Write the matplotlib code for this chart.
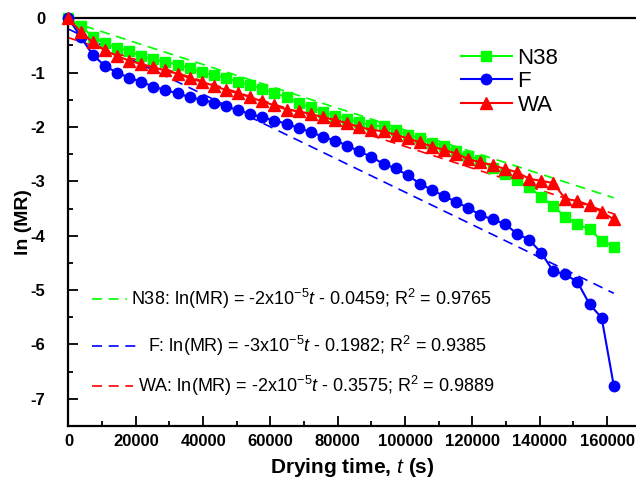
import numpy as np
import matplotlib
matplotlib.use("Agg")
import matplotlib.pyplot as plt
from matplotlib.ticker import MultipleLocator, FuncFormatter

plt.rcParams['font.family'] = ['Liberation Sans', 'DejaVu Sans']
plt.rcParams['mathtext.fontset'] = 'custom'
plt.rcParams['mathtext.rm'] = 'Liberation Sans'
plt.rcParams['mathtext.it'] = 'Liberation Sans:italic'
plt.rcParams['mathtext.bf'] = 'Liberation Sans:bold'
plt.rcParams['axes.unicode_minus'] = False

# ---- data ----
hours = np.arange(46)
time_s = hours * 3600

n38 = [0, -0.14, -0.34, -0.46, -0.54, -0.60, -0.69, -0.75, -0.80, -0.85,
       -0.92, -0.99, -1.05, -1.10, -1.17, -1.23, -1.30, -1.38, -1.45, -1.56,
       -1.64, -1.72, -1.79, -1.85, -1.91, -1.97, -1.99, -2.06, -2.14, -2.21,
       -2.29, -2.34, -2.45, -2.54, -2.60, -2.75, -2.87, -2.98, -3.10, -3.28,
       -3.46, -3.65, -3.79, -3.88, -4.09, -4.20]
f_vals = [0, -0.34, -0.67, -0.875, -1.0, -1.09, -1.17, -1.255, -1.32, -1.38,
          -1.45, -1.50, -1.55, -1.62, -1.69, -1.76, -1.82, -1.88, -1.94, -2.02,
          -2.09, -2.18, -2.25, -2.34, -2.45, -2.55, -2.68, -2.76, -2.89, -3.04,
          -3.16, -3.27, -3.38, -3.49, -3.62, -3.70, -3.78, -3.96, -4.07, -4.31,
          -4.65, -4.71, -4.85, -5.26, -5.51, -6.76]
wa = [0, -0.25, -0.44, -0.59, -0.69, -0.78, -0.84, -0.90, -0.96, -1.02,
      -1.10, -1.17, -1.24, -1.32, -1.38, -1.45, -1.53, -1.60, -1.68, -1.71,
      -1.76, -1.82, -1.87, -1.93, -2.00, -2.05, -2.08, -2.14, -2.21, -2.28,
      -2.36, -2.42, -2.49, -2.59, -2.65, -2.70, -2.77, -2.83, -2.95, -2.99,
      -3.03, -3.32, -3.36, -3.44, -3.56, -3.70]

series_names = ['N38', 'F', 'WA']
fit_slopes = [-2.01e-5, -3.0e-5, -2.0e-5]
fit_intercepts = [-0.0459, -0.1982, -0.3575]
fit_labels = [
    r"N38: ln(MR) = -2x10$^{-5}$$\it{t}$ - 0.0459; R$^{2}$ = 0.9765",
    r"F: ln(MR) = -3x10$^{-5}$$\it{t}$ - 0.1982; R$^{2}$ = 0.9385",
    r"WA: ln(MR) = -2x10$^{-5}$$\it{t}$ - 0.3575; R$^{2}$ = 0.9889",
]
colors = ['#00ff00', '#0000ff', '#ff0000']
markers = ['s', 'o', '^']
msizes = [6.5, 7.5, 8.5]

fig = plt.figure(figsize=(6.36, 4.82), dpi=100)
ax = fig.add_axes([0.1077, 0.1162, 0.8923, 0.8458])

# fit lines
tfit = np.array([0, time_s[-1]])
for s, b, c in zip(fit_slopes, fit_intercepts, colors):
    ax.plot(tfit, s * tfit + b, color=c, lw=1.2, linestyle=(0, (6, 4)), zorder=2)

handles = []
for vals, name, c, m, ms in zip([n38, f_vals, wa], series_names, colors, markers, msizes):
    h, = ax.plot(time_s, vals, color=c, marker=m, markersize=ms, lw=1.5,
                 label=name, clip_on=False, zorder=3)
    handles.append(h)

ax.set_xlim(0, 168600)
ax.set_ylim(-7.5, 0)

ax.xaxis.set_major_locator(MultipleLocator(20000))
ax.xaxis.set_minor_locator(MultipleLocator(10000))
ax.yaxis.set_major_locator(MultipleLocator(1))
ax.yaxis.set_minor_locator(MultipleLocator(0.5))
ax.xaxis.set_major_formatter(FuncFormatter(lambda v, p: f"{int(round(v))}"))
ax.yaxis.set_major_formatter(FuncFormatter(lambda v, p: f"{int(round(v))}"))

ax.tick_params(which='major', direction='in', length=7, width=1.3, labelsize=12)
ax.tick_params(axis='x', which='major', pad=6)
ax.tick_params(axis='y', which='major', pad=16.5)
ax.tick_params(which='minor', direction='in', length=3.5, width=1.3)
ax.tick_params(top=False, right=False, which='both')
for lab in ax.get_xticklabels() + ax.get_yticklabels():
    lab.set_fontweight('bold')

for sp in ['left', 'bottom', 'top']:
    ax.spines[sp].set_linewidth(1.6)
ax.spines['right'].set_visible(False)

ax.set_xlabel(r"Drying time, $\mathbf{\it{t}}$ (s)", fontsize=15, fontweight='bold', labelpad=5)
ax.set_ylabel("ln (MR)", fontsize=14, fontweight='bold', labelpad=-1)

leg = ax.legend(handles=handles, loc='upper right', bbox_to_anchor=(0.879, 0.95),
                frameon=False, fontsize=16, handlelength=2.3, handletextpad=0.25,
                labelspacing=0.12, borderaxespad=0)

# fit equations (legend-like annotations)
eq_y = [0.311, 0.196, 0.098]
dash_end = [0.103, 0.126, 0.114]
text_start = [0.110, 0.140, 0.122]
for y, lab, c, de, ts in zip(eq_y, fit_labels, colors, dash_end, text_start):
    ax.plot([0.041, de], [y, y], transform=ax.transAxes, color=c, lw=1.2,
            linestyle=(0, (6, 4)))
    ax.text(ts, y, lab, transform=ax.transAxes, fontsize=13.0,
            va='center', ha='left')

fig.savefig("out.png", dpi=100)
